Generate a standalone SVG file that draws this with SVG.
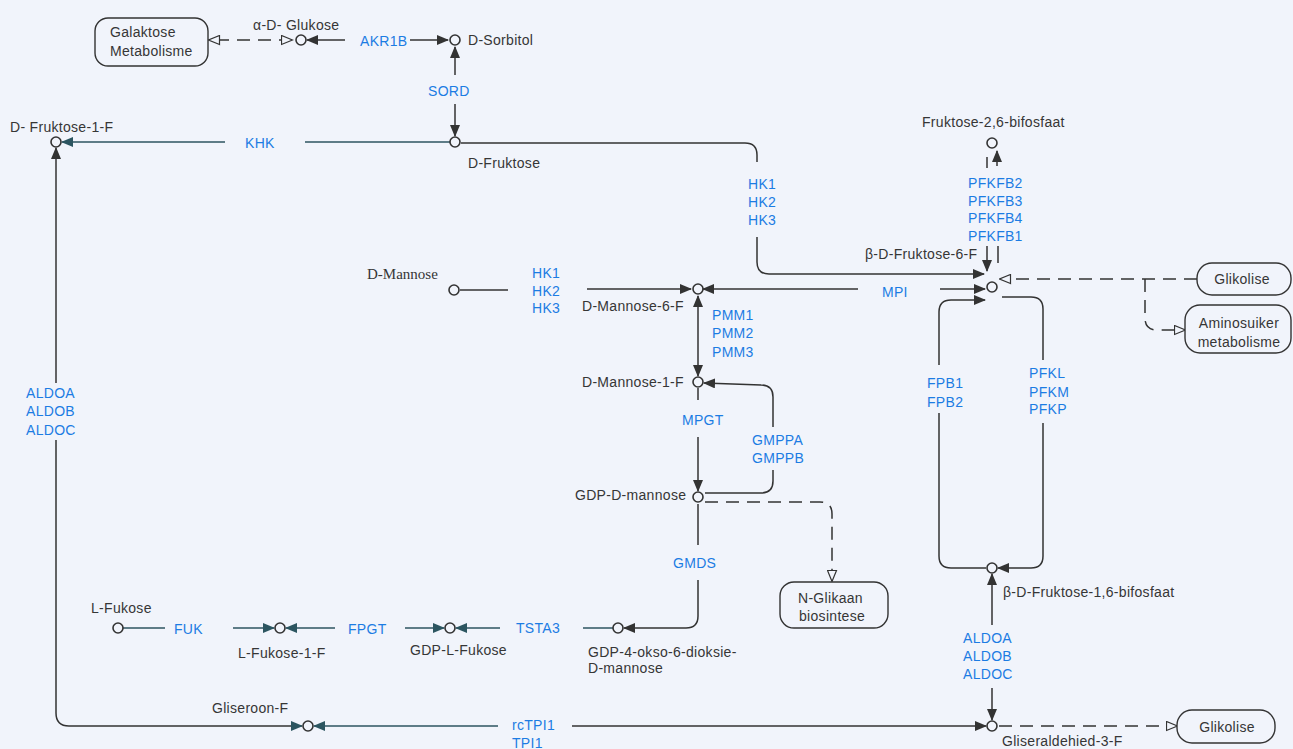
<svg xmlns="http://www.w3.org/2000/svg" width="1293" height="749" viewBox="0 0 1293 749">
<style>
text{font-family:"Liberation Sans",Arial,sans-serif;font-size:14px;fill:#363636;letter-spacing:0.3px}
.e{fill:#1c7ce3}
.serif{font-family:"Liberation Serif","Times New Roman",serif;font-size:15px;letter-spacing:0}
.c{text-anchor:middle}
.n{fill:#f1f4fb;stroke:#333;stroke-width:1.6}
.box{fill:#f1f4fb;stroke:#333;stroke-width:1.4}
.l{fill:none;stroke:#333;stroke-width:1.5}
.t{fill:none;stroke:#2c5560;stroke-width:1.5}
.d{fill:none;stroke:#333;stroke-width:1.5;stroke-dasharray:13,8}
</style>
<defs>
<marker id="fa" markerUnits="userSpaceOnUse" markerWidth="12" markerHeight="10" refX="11" refY="5" orient="auto"><path d="M0,0 L12,5 L0,10 z" fill="#333"/></marker>
<marker id="ft" markerUnits="userSpaceOnUse" markerWidth="12" markerHeight="10" refX="11" refY="5" orient="auto"><path d="M0,0 L12,5 L0,10 z" fill="#2c5560"/></marker>
<marker id="fs" markerUnits="userSpaceOnUse" markerWidth="12" markerHeight="10" refX="11" refY="5" orient="auto-start-reverse"><path d="M0,0 L12,5 L0,10 z" fill="#333"/></marker>
<marker id="oa" markerUnits="userSpaceOnUse" markerWidth="13" markerHeight="11" refX="11.5" refY="5.5" orient="auto-start-reverse"><path d="M1,1 L12,5.5 L1,10 z" fill="#f1f4fb" stroke="#333" stroke-width="1.2"/></marker>
</defs>
<rect width="1293" height="749" fill="#f1f4fb"/>

<g id="connectors">
<path class="d" d="M292,40 L209,40" marker-start="url(#oa)" marker-end="url(#oa)"/>
<path class="l" d="M345,40 L307,40" marker-end="url(#fa)"/>
<path class="l" d="M410,40 L448,40" marker-end="url(#fa)"/>
<path class="l" d="M455,75 L455,47" marker-end="url(#fa)"/>
<path class="l" d="M455,104 L455,136" marker-end="url(#fa)"/>
<path class="t" d="M225,142 L62,142" marker-end="url(#ft)"/>
<path class="t" d="M305,142 L450,142"/>
<path class="l" d="M461,143 L745,143 Q757,143 757,155 L757,162"/>
<path class="l" d="M757,237 L757,262 Q757,274 769,274 L984,274" marker-end="url(#fa)"/>
<path class="l" d="M460,290 L508,290"/>
<path class="l" d="M587,289 L691,289" marker-end="url(#fa)"/>
<path class="l" d="M858,289 L703,289" marker-end="url(#fa)"/>
<path class="l" d="M940,289 L985,289" marker-end="url(#fa)"/>
<path class="l" d="M698,296 L698,376" marker-start="url(#fs)" marker-end="url(#fs)"/>
<path class="l" d="M698,388 L698,400"/>
<path class="l" d="M698,437 L698,491" marker-end="url(#fa)"/>
<path class="l" d="M705,493 L761,493 Q773,493 773,481 L773,470"/>
<path class="l" d="M773,427 L773,397 Q773,385 761,385 L704,383" marker-end="url(#fa)"/>
<path class="d" d="M705,502 L820,502 Q832,502 832,514 L832,581" marker-end="url(#oa)"/>
<path class="l" d="M698,504 L698,545"/>
<path class="l" d="M698,580 L698,616 Q698,628 686,628 L624,628" marker-end="url(#fa)"/>
<path class="t" d="M583,628 L613,628"/>
<path class="t" d="M500,628 L456,628" marker-end="url(#ft)"/>
<path class="t" d="M405,628 L444,628" marker-end="url(#ft)"/>
<path class="t" d="M335,628 L286,628" marker-end="url(#ft)"/>
<path class="t" d="M233,628 L274,628" marker-end="url(#ft)"/>
<path class="t" d="M123,628 L165,628"/>
<path class="l" d="M56,383 L56,148" marker-end="url(#fa)"/>
<path class="l" d="M56,440 L56,713 Q56,726 69,726 L302,726" marker-end="url(#ft)"/>
<path class="t" d="M498,726 L314,726" marker-end="url(#ft)"/>
<path class="l" d="M572,726 L986,726" marker-end="url(#fa)"/>
<path class="d" d="M999,726 L1177,726" marker-end="url(#oa)"/>
<path class="l" d="M992,625 L992,574" marker-end="url(#fa)"/>
<path class="l" d="M992,688 L992,720" marker-end="url(#fa)"/>
<path class="l" d="M1002,297 L1031,297 Q1043,297 1043,309 L1043,360"/>
<path class="l" d="M1043,423 L1043,556 Q1043,568 1031,568 L998,568" marker-end="url(#fa)"/>
<path class="l" d="M986,568 L951,568 Q939,568 939,556 L939,413"/>
<path class="l" d="M939,365 L939,312 Q939,300 951,300 L985,300" marker-end="url(#fa)"/>
<path class="l" d="M987,157 L987,168"/>
<path class="l" d="M987,246 L987,271" marker-end="url(#fa)"/>
<path class="l" d="M997,166 L997,151" marker-end="url(#fa)"/>
<path class="l" d="M998,246 L998,263"/>
<path class="d" d="M1197,279 L1000,279" marker-end="url(#oa)"/>
<path class="d" d="M1145,279 L1145,318 Q1145,330 1157,330 L1185,330" marker-end="url(#oa)"/>
</g>

<g id="galaktose"><rect class="box" x="95" y="18" width="113" height="48" rx="13"/><text x="110" y="37">Galaktose</text><text x="110" y="56">Metabolisme</text></g>
<g id="glukose"><circle class="n" cx="301" cy="40" r="5"/><text x="253" y="30">α-D- Glukose</text></g>
<g id="akr1b"><text class="e" x="360" y="46">AKR1B</text></g>
<g id="sorbitol"><circle class="n" cx="455" cy="40" r="5"/><text x="468" y="45">D-Sorbitol</text></g>
<g id="sord"><text class="e" x="428" y="96">SORD</text></g>
<g id="fruktose1f"><circle class="n" cx="56" cy="142" r="5"/><text x="10" y="132">D- Fruktose-1-F</text></g>
<g id="khk"><text class="e" x="245" y="148">KHK</text></g>
<g id="fruktose"><circle class="n" cx="455" cy="142" r="5"/><text x="468" y="168">D-Fruktose</text></g>
<g id="hk-fru"><text class="e" x="748" y="189">HK1</text><text class="e" x="748" y="207">HK2</text><text class="e" x="748" y="225">HK3</text></g>
<g id="f26bp"><circle class="n" cx="992" cy="143" r="5"/><text x="922" y="127">Fruktose-2,6-bifosfaat</text></g>
<g id="pfkfb"><text class="e" x="968" y="188">PFKFB2</text><text class="e" x="968" y="206">PFKFB3</text><text class="e" x="968" y="223">PFKFB4</text><text class="e" x="968" y="241">PFKFB1</text></g>
<g id="f6p"><circle class="n" cx="992" cy="287" r="5"/><text x="865" y="259">β-D-Fruktose-6-F</text></g>
<g id="glikolise1"><rect class="box" x="1197" y="263" width="94" height="32" rx="15"/><text class="c" x="1242" y="284">Glikolise</text></g>
<g id="aminosuiker"><rect class="box" x="1185" y="305" width="106" height="48" rx="15"/><text class="c" x="1239" y="328">Aminosuiker</text><text class="c" x="1239" y="347">metabolisme</text></g>
<g id="mannose"><circle class="n" cx="454" cy="290" r="5"/><text class="serif" x="367" y="279">D-Mannose</text></g>
<g id="hk-man"><text class="e" x="532" y="278">HK1</text><text class="e" x="532" y="296">HK2</text><text class="e" x="532" y="313">HK3</text></g>
<g id="m6p"><circle class="n" cx="698" cy="289" r="5"/><text x="582" y="311">D-Mannose-6-F</text></g>
<g id="mpi"><text class="e" x="882" y="297">MPI</text></g>
<g id="pmm"><text class="e" x="712" y="320">PMM1</text><text class="e" x="712" y="338">PMM2</text><text class="e" x="712" y="357">PMM3</text></g>
<g id="m1p"><circle class="n" cx="698" cy="382" r="5"/><text x="582" y="387">D-Mannose-1-F</text></g>
<g id="mpgt"><text class="e" x="682" y="425">MPGT</text></g>
<g id="gmpp"><text class="e" x="752" y="445">GMPPA</text><text class="e" x="752" y="463">GMPPB</text></g>
<g id="gdpman"><circle class="n" cx="698" cy="497" r="5"/><text x="575" y="500">GDP-D-mannose</text></g>
<g id="gmds"><text class="e" x="673" y="568">GMDS</text></g>
<g id="nglikaan"><rect class="box" x="780" y="582" width="108" height="46" rx="14"/><text x="798" y="603">N-Glikaan</text><text x="799" y="621">biosintese</text></g>
<g id="gdp4okso"><circle class="n" cx="618" cy="628" r="5"/><text x="588" y="657">GDP-4-okso-6-dioksie-</text><text x="588" y="673">D-mannose</text></g>
<g id="tsta3"><text class="e" x="516" y="633">TSTA3</text></g>
<g id="gdpfuk"><circle class="n" cx="450" cy="628" r="5"/><text x="410" y="655">GDP-L-Fukose</text></g>
<g id="fpgt"><text class="e" x="348" y="634">FPGT</text></g>
<g id="fuk1p"><circle class="n" cx="280" cy="628" r="5"/><text x="238" y="658">L-Fukose-1-F</text></g>
<g id="fuk"><text class="e" x="174" y="634">FUK</text></g>
<g id="lfukose"><circle class="n" cx="118" cy="628" r="5"/><text x="91" y="613">L-Fukose</text></g>
<g id="aldo-left"><text class="e" x="26" y="398">ALDOA</text><text class="e" x="26" y="416">ALDOB</text><text class="e" x="26" y="435">ALDOC</text></g>
<g id="glyceronep"><circle class="n" cx="308" cy="726" r="5"/><text x="212" y="713">Gliseroon-F</text></g>
<g id="tpi"><text class="e" x="512" y="730">rcTPI1</text><text class="e" x="512" y="748">TPI1</text></g>
<g id="fpb"><text class="e" x="927" y="388">FPB1</text><text class="e" x="927" y="407">FPB2</text></g>
<g id="pfk"><text class="e" x="1029" y="378">PFKL</text><text class="e" x="1029" y="397">PFKM</text><text class="e" x="1029" y="414">PFKP</text></g>
<g id="f16bp"><circle class="n" cx="992" cy="568" r="5"/><text x="1003" y="597">β-D-Fruktose-1,6-bifosfaat</text></g>
<g id="aldo-right"><text class="e" x="963" y="643">ALDOA</text><text class="e" x="963" y="661">ALDOB</text><text class="e" x="963" y="679">ALDOC</text></g>
<g id="ga3p"><circle class="n" cx="992" cy="726" r="5"/><text x="1002" y="746">Gliseraldehied-3-F</text></g>
<g id="glikolise2"><rect class="box" x="1177" y="710" width="98" height="33" rx="15"/><text class="c" x="1227" y="732">Glikolise</text></g>
</svg>
